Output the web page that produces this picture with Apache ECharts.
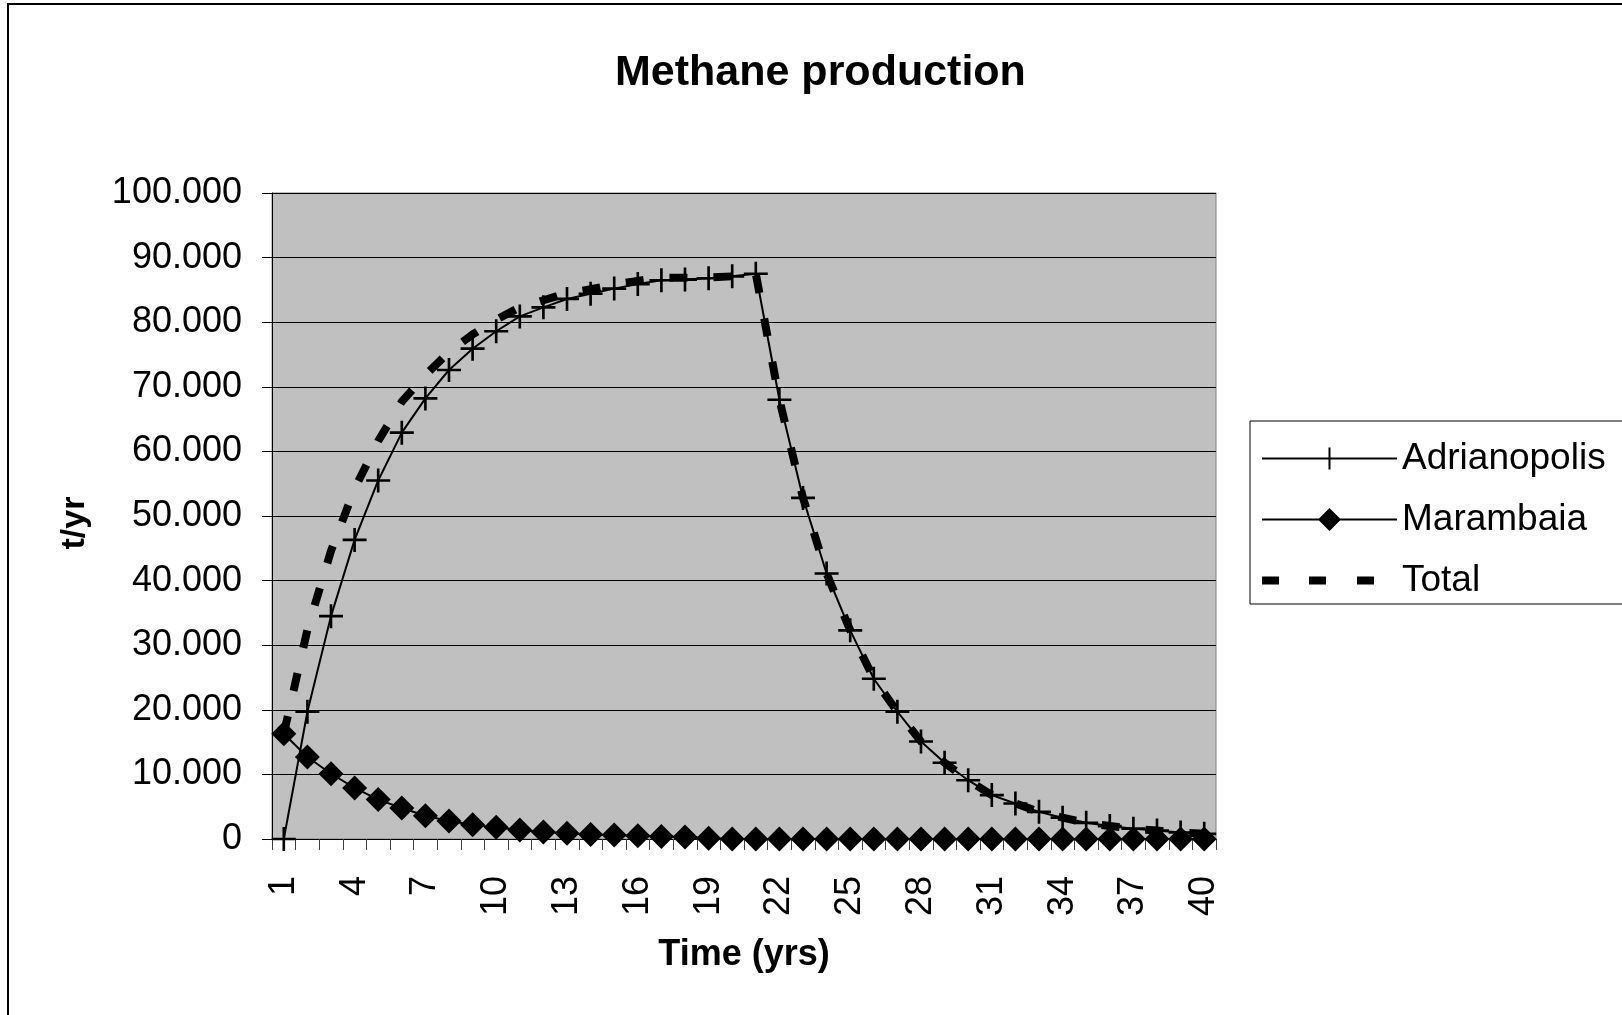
<!DOCTYPE html>
<html>
<head>
<meta charset="utf-8">
<style>
html,body{margin:0;padding:0;background:#fff;}
#chart{width:1622px;height:1015px;}
</style>
<script src="https://cdn.jsdelivr.net/npm/echarts@6/dist/echarts.min.js"></script>
</head>
<body>
<div id="chart"></div>
<script>
var years = [];
for (var i = 1; i <= 40; i++) years.push(String(i));

var adrianopolis = [0, 19700, 34500, 46300, 55500, 62900, 68200, 72600, 75900, 78600,
  80900, 82300, 83600, 84400, 85200, 85900, 86500, 86600, 86800, 87100,
  87500, 68000, 52800, 41100, 32300, 24800, 19700, 15100, 11800, 9100,
  6800, 5500, 4200, 3300, 2500, 2000, 1600, 1300, 1000, 800];

var marambaia = [16300, 12700, 10100, 7900, 6100, 4800, 3600, 2800, 2200, 1800,
  1400, 1100, 900, 700, 600, 500, 400, 300, 100, 0,
  0, 0, 0, 0, 0, 0, 0, 0, 0, 0,
  0, 0, 0, 0, 0, 0, 0, 0, 0, 0];

var total = [16300, 32400, 44600, 54200, 61600, 67700, 71800, 75400, 78100, 80400,
  82300, 83400, 84500, 85100, 85800, 86400, 86900, 86900, 86900, 87100,
  87500, 68000, 52800, 41100, 32300, 24800, 19700, 15100, 11800, 9100,
  6800, 5500, 4200, 3300, 2500, 2000, 1600, 1300, 1000, 800];

var seriesNames = ['Adrianopolis', 'Marambaia', 'Total'];
var yTicks = [0, 10000, 20000, 30000, 40000, 50000, 60000, 70000, 80000, 90000, 100000];

var FONT = '"Liberation Sans", Arial, sans-serif';
var plusPath = 'path://M-1.1,-10 L1.1,-10 L1.1,-1.1 L10,-1.1 L10,1.1 L1.1,1.1 L1.1,10 L-1.1,10 L-1.1,1.1 L-10,1.1 L-10,-1.1 L-1.1,-1.1 Z';

// legend icons (135 x 24 boxes)
var iconPlus = 'path://M0,11 L135,11 L135,13 L0,13 Z M66.5,1 L68.5,1 L68.5,23 L66.5,23 Z M0,0 L0.05,0 L0,0.05 Z M0,24 L0.05,24 L0,23.95 Z';
var iconDiamond = 'path://M0,11 L135,11 L135,13 L0,13 Z M67.5,0.5 L79,12 L67.5,23.5 L56,12 Z M0,0 L0.05,0 L0,0.05 Z M0,24 L0.05,24 L0,23.95 Z';
var iconDash = 'path://M0,8 L17,8 L17,16 L0,16 Z M47,8 L64,8 L64,16 L47,16 Z M95,8 L112,8 L112,16 L95,16 Z M0,0 L0.05,0 L0,0.05 Z M134.95,24 L135,24 L135,23.95 Z';

function fmt(v) {
  if (v === 0) return '0';
  var s = String(Math.round(v));
  return s.replace(/\B(?=(\d{3})+(?!\d))/g, '.');
}

var chart = echarts.init(document.getElementById('chart'), null, {renderer: 'canvas'});
chart.setOption({
  animation: false,
  backgroundColor: '#ffffff',
  graphic: [{
    type: 'rect',
    shape: {x: 8, y: 4, width: 1700, height: 1100},
    style: {fill: 'none', stroke: '#000', lineWidth: 2},
    silent: true,
    z: -10
  }],
  title: {
    text: 'Methane production',
    left: 610,
    top: 47,
    textStyle: {fontFamily: FONT, fontSize: 43, fontWeight: 'bold', color: '#000'}
  },
  legend: {
    orient: 'vertical',
    left: 1250,
    top: 421,
    data: [
      {name: seriesNames[0], icon: iconPlus},
      {name: seriesNames[1], icon: iconDiamond},
      {name: seriesNames[2], icon: iconDash}
    ],
    itemWidth: 135,
    itemHeight: 24,
    itemGap: 24,
    itemTextGap: 11,
    symbolKeepAspect: true,
    padding: [19, 40, 5, 12],
    borderColor: '#000',
    borderWidth: 1,
    backgroundColor: '#fff',
    textStyle: {fontFamily: FONT, fontSize: 37, color: '#000'},
    itemStyle: {borderWidth: 0}
  },
  grid: {
    left: 272,
    right: 406,
    top: 193,
    bottom: 176,
    show: true,
    backgroundColor: '#C0C0C0',
    borderColor: '#808080',
    borderWidth: 1,
    containLabel: false
  },
  xAxis: {
    type: 'category',
    data: years,
    boundaryGap: true,
    name: 'Time (yrs)',
    nameLocation: 'middle',
    nameGap: 98,
    nameTextStyle: {fontFamily: FONT, fontSize: 36, fontWeight: 'bold', color: '#000'},
    axisLine: {show: true, lineStyle: {color: '#000', width: 1}},
    axisTick: {show: true, interval: 0, length: 11, inside: false, lineStyle: {color: '#404040', width: 1}},
    axisLabel: {interval: 2, rotate: 90, margin: 37, fontFamily: FONT, fontSize: 36, color: '#000'},
    splitLine: {show: false}
  },
  yAxis: {
    type: 'value',
    min: 0,
    max: 100000,
    interval: 10000,
    name: 't/yr',
    nameLocation: 'middle',
    nameRotate: 90,
    nameGap: 180,
    nameTextStyle: {fontFamily: FONT, fontSize: 34, fontWeight: 'bold', color: '#000', padding: [0, 14, 0, 0]},
    axisLine: {show: true, lineStyle: {color: '#000', width: 1}},
    axisTick: {show: true, length: 10, inside: false, lineStyle: {color: '#000', width: 1}},
    axisLabel: {margin: 30, fontFamily: FONT, fontSize: 36, color: '#000', formatter: fmt},
    splitLine: {show: true, lineStyle: {color: '#000', width: 1}}
  },
  series: [
    {
      name: seriesNames[0],
      type: 'line',
      data: adrianopolis,
      symbol: plusPath,
      symbolSize: 24,
      showAllSymbol: true,
      lineStyle: {color: '#000', width: 2},
      itemStyle: {color: '#000', borderWidth: 0},
      z: 3
    },
    {
      name: seriesNames[1],
      type: 'line',
      data: marambaia,
      symbol: 'diamond',
      symbolSize: 25,
      showAllSymbol: true,
      lineStyle: {color: '#000', width: 2},
      itemStyle: {color: '#000', borderWidth: 0},
      z: 3
    },
    {
      name: seriesNames[2],
      type: 'line',
      data: total,
      symbol: 'none',
      lineStyle: {color: '#000', width: 8, type: [18, 26], cap: 'butt'},
      itemStyle: {color: '#000'},
      z: 4
    }
  ]
});
</script>
</body>
</html>
